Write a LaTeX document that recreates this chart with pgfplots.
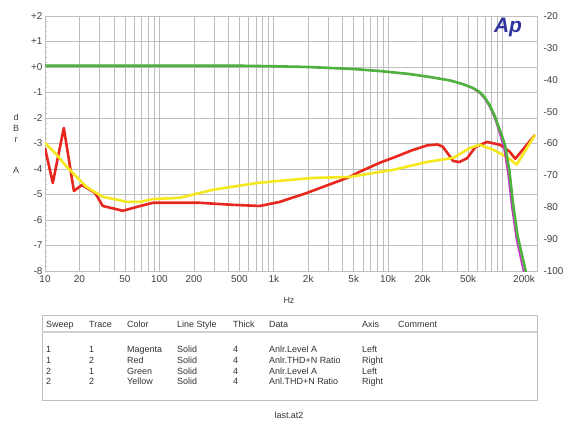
\documentclass[border=0pt]{standalone}
\usepackage{pgfplots}
\pgfplotsset{compat=1.18}
\usepackage{fontspec}
\setmainfont{Liberation Sans}
\definecolor{apgreen}{RGB}{80,178,62}
\definecolor{apred}{RGB}{232,40,30}
\definecolor{apyellow}{RGB}{246,232,30}
\definecolor{apmagenta}{RGB}{200,50,200}
\definecolor{apblue}{RGB}{48,52,160}
\definecolor{gridc}{RGB}{190,190,190}
\begin{document}
\begin{tikzpicture}[x=1bp,y=1bp]
\useasboundingbox (0,0) rectangle (567,421);
\fill[white] (0,0) rectangle (567,421);
% grid / left axis
\begin{axis}[at={(45bp,150bp)}, anchor=south west, scale only axis,
  width=492bp, height=255bp,
  xmode=log, xmin=10, xmax=200000, ymin=-8, ymax=2,
  log basis x=10,
  xtick={10,20,50,100,200,500,1000,2000,5000,10000,20000,50000,200000},
  xticklabels={10,20,50,100,200,500,1k,2k,5k,10k,20k,50k,{200k\rule{26bp}{0pt}}},
  minor xtick={10,20,30,40,50,60,70,80,90,100,200,300,400,500,600,700,800,900,1000,2000,3000,4000,5000,6000,7000,8000,9000,10000,20000,30000,40000,50000,60000,70000,80000,90000,100000,200000},
  xmajorgrids=false, xminorgrids=true, ymajorgrids=true,
  ytick={-8,-7,-6,-5,-4,-3,-2,-1,0,1,2},
  yticklabels={-8,-7,-6,-5,-4,-3,-2,-1,+0,+1,+2},
  minor y tick num=4,
  ytick pos=left,
  xtick style={draw=none},
  major tick length=3bp, minor tick length=2bp,
  tick style={gridc},
  grid style={gridc, line width=0.6bp},
  minor grid style={gridc, line width=0.6bp},
  axis line style={gridc, line width=0.6bp},
  tick label style={font=\fontsize{10}{11}\selectfont, text=black!75},
  xticklabel style={yshift=-1bp},
  yticklabel style={xshift=1bp},
]
\addplot[draw=none] coordinates {(10,0)};
\end{axis}
% THD axis (right)
\begin{axis}[at={(45bp,150bp)}, anchor=south west, scale only axis,
  width=492bp, height=255bp,
  xmode=log, xmin=10, xmax=200000, ymin=-100, ymax=-20,
  axis x line=none, axis y line*=right,
  ytick={-100,-90,-80,-70,-60,-50,-40,-30,-20},
  yticklabels={-100,-90,-80,-70,-60,-50,-40,-30,-20},
  ytick style={draw=none},
  axis line style={gridc, line width=0.6bp},
  tick label style={font=\fontsize{10}{11}\selectfont, text=black!75},
  yticklabel style={xshift=3bp},
]
\addplot[apred, line width=2.6bp, line join=round] coordinates {
(10,-61.4) (11.7,-72.4) (14.6,-55.1) (17.9,-74.9) (21,-73) (27.4,-75.5)
(32,-79.6) (48,-81.1) (68,-79.6) (88,-78.6) (124,-78.6) (226,-78.6)
(414,-79.2) (757,-79.6) (1133,-78.3) (1950,-75.5) (3100,-72.8) (4600,-70.5)
(5600,-68.9) (8500,-66) (11000,-64.5) (16000,-62.2) (21800,-60.6) (27000,-60.3)
(30000,-61) (33000,-63) (37000,-65.5) (42000,-65.8) (49000,-64.6) (58000,-61.1)
(73000,-59.5) (95000,-60.4) (115000,-62.5) (129000,-64.8) (192000,-57.3)};
\addplot[apyellow, line width=2.6bp, line join=round] coordinates {
(10,-59.8) (12.7,-63.6) (15.5,-67.3) (23,-73.6) (32,-76.7) (52,-78.3)
(68,-78.3) (88,-77.4) (124,-77.2) (152,-77) (295,-74.5) (710,-72.4)
(1133,-71.7) (2200,-70.8) (4600,-70.5) (8500,-68.9) (11000,-68.3)
(21800,-65.8) (37000,-64.5) (52000,-61.4) (63000,-60.4) (83000,-62)
(109000,-64.2) (133000,-66.6) (192000,-57.3)};
\end{axis}
% level axis
\begin{axis}[at={(45bp,150bp)}, anchor=south west, scale only axis,
  width=492bp, height=255bp, hide axis,
  xmode=log, xmin=10, xmax=200000, ymin=-8, ymax=2]
\addplot[apmagenta, line width=1.6bp] coordinates {
(10,0.05) (100,0.05) (500,0.05) (1000,0.03) (2000,0) (5000,-0.08) (8500,-0.16)
(15000,-0.27) (23000,-0.39) (35000,-0.53) (45000,-0.68) (55000,-0.84) (63000,-1.02)
(70000,-1.25) (77000,-1.56) (85000,-1.98) (91000,-2.38) (97000,-2.8) (103000,-3.2)
(112000,-4.25) (120000,-5.45) (132000,-6.75) (147000,-7.7) (160000,-8.4)};
\addplot[apgreen, line width=2.6bp] coordinates {
(10,0.05) (100,0.05) (500,0.05) (1000,0.03) (2000,0) (5000,-0.08) (8500,-0.16)
(15000,-0.27) (23000,-0.39) (35000,-0.53) (45000,-0.67) (55000,-0.82) (63000,-0.98)
(70000,-1.2) (77000,-1.49) (85000,-1.9) (91000,-2.27) (98000,-2.65) (105000,-3.06)
(115000,-4.1) (123000,-5.3) (135000,-6.6) (150000,-7.5) (165000,-8.3)};
\end{axis}
% labels
\node[font=\fontsize{9}{10}\selectfont, text=black!75] at (289,121) {Hz};
\begin{scope}[every node/.style={font=\fontsize{9}{10}\selectfont, text=black!75}]
\node at (16,304) {d};
\node at (16,293) {B};
\node at (16,281) {r};
\node at (16,251) {A};
\end{scope}
\node[font=\fontsize{21}{22}\selectfont\bfseries\itshape, text=apblue] at (508,394) {Ap};
% table
\draw[black!25, line width=0.8bp] (42,21) rectangle (537,106);
\draw[black!18, line width=1.4bp] (42,89) -- (537,89);
\begin{scope}[every node/.style={font=\fontsize{9}{10}\selectfont, text=black!80, anchor=west, inner sep=0pt, text height=6.5bp, text depth=1.9bp}]
\foreach \x/\t in {46/Sweep,89/Trace,127/Color,177/Line Style,233/Thick,269/Data,362/Axis,398/Comment}
  \node at (\x,96) {\t};
\foreach \y/\a/\b/\c/\d/\e in {71/1/1/Magenta/Anlr.Level A/Left,
   60/1/2/Red/Anlr.THD+N Ratio/Right,
   49/2/1/Green/Anlr.Level A/Left,
   39/2/2/Yellow/Anl.THD+N Ratio/Right}{
  \node at (46,\y) {\a};
  \node at (89,\y) {\b};
  \node at (127,\y) {\c};
  \node at (177,\y) {Solid};
  \node at (233,\y) {4};
  \node at (269,\y) {\d};
  \node at (362,\y) {\e};
}
\end{scope}
\node[font=\fontsize{9}{10}\selectfont, text=black!80] at (289,6) {last.at2};
\end{tikzpicture}
\end{document}
